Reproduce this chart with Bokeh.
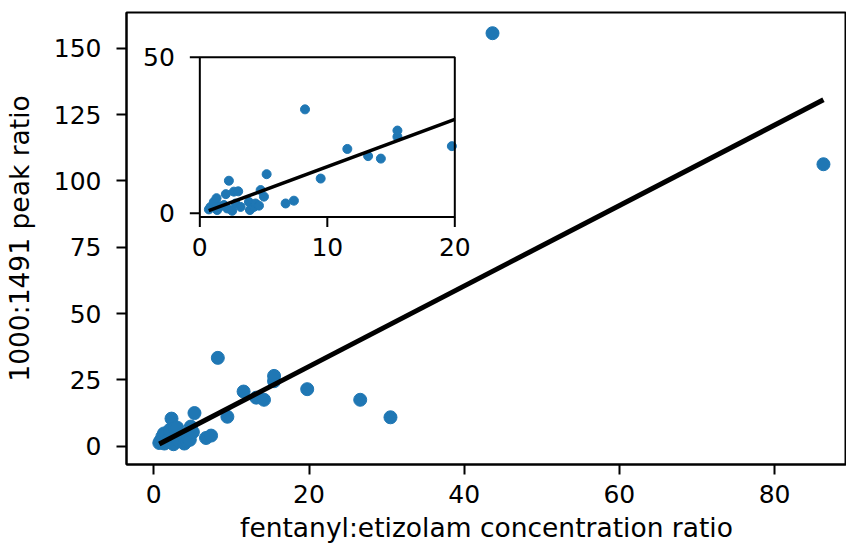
import numpy as np
from bokeh.plotting import figure
from bokeh.models import Range1d
from bokeh.core.properties import value
from bokeh.embed import file_html
from bokeh.resources import INLINE

# data: fentanyl:etizolam concentration ratio vs 1000:1491 peak ratio
conc_ratio = [0.71, 0.84, 1.10, 1.31, 1.36, 1.60, 1.89, 2.04, 2.15, 2.28,
              2.54, 2.67, 2.80, 3.01, 3.20, 3.85, 3.93, 4.24, 4.37, 4.64,
              4.77, 5.03, 5.24, 6.73, 7.38, 8.25, 9.48, 11.57, 13.20, 14.20,
              15.50, 15.50, 19.77, 26.60, 30.50, 43.65, 86.30]
peak_ratio = [1.2, 2.0, 3.6, 4.8, 1.0, 2.2, 2.6, 6.1, 1.5, 10.4,
              0.75, 6.9, 3.1, 7.0, 2.0, 3.6, 1.0, 2.0, 3.1, 2.4,
              7.4, 5.3, 12.5, 3.1, 4.0, 33.3, 11.1, 20.6, 18.3, 17.5,
              24.5, 26.5, 21.5, 17.5, 10.9, 155.7, 106.3]
# linear fit line endpoints
fit_x = [0.70, 86.30]
fit_y = [0.80, 130.60]

main_xticks = [0, 20, 40, 60, 80]
main_yticks = [0, 25, 50, 75, 100, 125, 150]
inset_xticks = [0, 10, 20]
inset_yticks = [0, 50]
inset_xlim = (0, 20)
inset_ylim = (-1.2, 50)

FONT = "DejaVu Sans"
FS = "25px"
LFS = "26.5px"
BLUE = "#1f77b4"

p = figure(width=846, height=552, output_backend="svg", toolbar_location=None,
           x_range=Range1d(-3.52, 89.27), y_range=Range1d(-6.9, 163.5),
           min_border_left=126, min_border_right=0, min_border_top=12,
           min_border_bottom=88)
p.xgrid.visible = False
p.ygrid.visible = False
p.outline_line_color = "black"
p.outline_line_width = 2
p.background_fill_color = "white"
p.border_fill_color = "white"

for ax in (p.xaxis[0], p.yaxis[0]):
    ax.axis_line_width = 2
    ax.major_tick_line_width = 2
    ax.major_tick_out = 10
    ax.major_tick_in = 0
    ax.minor_tick_out = 0
    ax.minor_tick_in = 0
    ax.major_label_text_font = FONT
    ax.major_label_text_font_size = FS
    ax.major_label_text_color = "black"
    ax.axis_label_text_font = FONT
    ax.axis_label_text_font_size = LFS
    ax.axis_label_text_font_style = "normal"
    ax.axis_label_text_color = "black"
p.xaxis.ticker = main_xticks
p.yaxis.ticker = main_yticks
p.xaxis.axis_label = "fentanyl:etizolam concentration ratio"
p.yaxis.axis_label = "1000:1491 peak ratio"
p.xaxis.major_label_standoff = 10
p.yaxis.major_label_standoff = 15
p.xaxis.axis_label_standoff = 6
p.yaxis.axis_label_standoff = 16

p.scatter(conc_ratio, peak_ratio, size=13, color=BLUE)
p.line(fit_x, fit_y, line_width=5, color="black")

# inset axes via sub-coordinates
sub = p.subplot(x_source=Range1d(*inset_xlim), y_source=Range1d(*inset_ylim),
                x_target=Range1d(5.93, 38.79), y_target=Range1d(86.45, 146.6))

sub.quad(left=[inset_xlim[0]], right=[inset_xlim[1]], bottom=[inset_ylim[0]],
         top=[inset_ylim[1]], fill_color="white", line_color=None)

cx = np.array(conc_ratio)
cy = np.array(peak_ratio)
m = (cx >= inset_xlim[0]) & (cx <= inset_xlim[1]) & (cy <= inset_ylim[1])
sub.scatter(cx[m], cy[m], size=9, color=BLUE)

slope = (fit_y[1] - fit_y[0]) / (fit_x[1] - fit_x[0])
ix = [fit_x[0], inset_xlim[1]]
iy = [fit_y[0], fit_y[0] + slope * (inset_xlim[1] - fit_x[0])]
sub.line(ix, iy, line_width=3.5, color="black")

sub.quad(left=[inset_xlim[0]], right=[inset_xlim[1]], bottom=[inset_ylim[0]],
         top=[inset_ylim[1]], fill_color=None, line_color="black", line_width=2)

# inset ticks
sub.ray(x=inset_xticks, y=[inset_ylim[0]] * len(inset_xticks), length=10,
        length_units="screen", angle=-90, angle_units="deg",
        line_color="black", line_width=2)
sub.ray(x=[inset_xlim[0]] * len(inset_yticks), y=inset_yticks, length=10,
        length_units="screen", angle=180, angle_units="deg",
        line_color="black", line_width=2)
sub.text(x=inset_xticks, y=[inset_ylim[0]] * len(inset_xticks),
         text=[str(t) for t in inset_xticks], y_offset=21,
         text_align="center", text_baseline="top",
         text_font=value(FONT), text_font_size=FS, text_color="black")
sub.text(x=[inset_xlim[0]] * len(inset_yticks), y=inset_yticks,
         text=[str(t) for t in inset_yticks], x_offset=-25,
         text_align="right", text_baseline="middle",
         text_font=value(FONT), text_font_size=FS, text_color="black")

open("out.html", "w").write(file_html(p, INLINE))
